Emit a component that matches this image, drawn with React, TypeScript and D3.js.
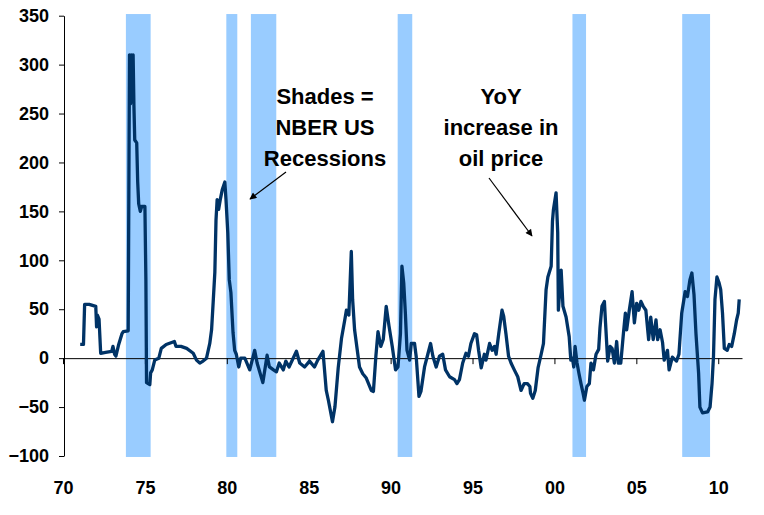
import React, { useRef, useEffect } from "react";
import { select, scaleLinear, axisLeft, axisBottom, line } from "d3";

// NBER recessions (start, end) as drawn
const recessionStart = [1973.84, 1979.97, 1981.47, 1990.43, 2001.1, 2007.8];
const recessionEnd = [1975.35, 1980.64, 1983.02, 1991.32, 2001.93, 2009.5];

// YoY % change in oil price
const years = [
  1971.05, 1971.25, 1971.32, 1971.6, 1972.0, 1972.05, 1972.1, 1972.2, 1972.3, 1972.6,
  1972.97, 1973.05, 1973.15, 1973.23, 1973.4, 1973.6, 1973.68, 1973.98, 1974.03, 1974.06,
  1974.12, 1974.17, 1974.23, 1974.28, 1974.33, 1974.38, 1974.5, 1974.56, 1974.62, 1974.72,
  1974.8, 1975.0, 1975.06, 1975.1, 1975.3,
  1975.35, 1975.45, 1975.6, 1975.85, 1976.0, 1976.3, 1976.8, 1976.9, 1977.2, 1977.55,
  1977.95, 1978.15, 1978.35, 1978.55, 1978.76, 1978.96, 1979.07, 1979.17, 1979.27, 1979.34,
  1979.41, 1979.5, 1979.6, 1979.72, 1979.88, 1979.95, 1980.06, 1980.15, 1980.25, 1980.38,
  1980.48, 1980.58, 1980.73, 1980.85, 1981.1, 1981.4, 1981.7, 1981.85, 1982.2, 1982.46,
  1982.6, 1982.85, 1983.03, 1983.2, 1983.45, 1983.6, 1983.8, 1984.25, 1984.45, 1984.75,
  1985.05, 1985.35, 1985.55, 1985.87, 1986.07, 1986.2, 1986.45, 1986.6, 1986.8, 1987.0,
  1987.2, 1987.3, 1987.45, 1987.6, 1987.68, 1987.8, 1988.1, 1988.3, 1988.5, 1988.82,
  1988.95, 1989.1, 1989.23, 1989.4, 1989.55, 1989.73, 1989.9, 1990.1, 1990.3, 1990.45,
  1990.6, 1990.69, 1990.8, 1990.9, 1991.0, 1991.16, 1991.26, 1991.46, 1991.56, 1991.73,
  1991.85, 1992.07, 1992.27, 1992.44, 1992.58, 1992.78, 1992.98, 1993.18, 1993.35, 1993.6,
  1993.9, 1994.05, 1994.2, 1994.4, 1994.6, 1994.75, 1994.9, 1995.12, 1995.25, 1995.37,
  1995.53, 1995.72, 1995.82, 1996.04, 1996.2, 1996.34, 1996.44, 1996.6, 1996.8, 1996.9,
  1997.04, 1997.2, 1997.35, 1997.55, 1997.76, 1997.96, 1998.15, 1998.35, 1998.5, 1998.54,
  1998.68, 1998.83, 1999.0, 1999.19, 1999.33, 1999.49, 1999.6, 1999.8, 1999.88, 1999.94,
  2000.1, 2000.2, 2000.24, 2000.41, 2000.52, 2000.71, 2000.9, 2001.0, 2001.1, 2001.18,
  2001.26, 2001.38, 2001.5, 2001.62, 2001.75, 2001.83, 2001.98, 2002.13, 2002.23, 2002.38,
  2002.54, 2002.7, 2002.78, 2002.9, 2003.05, 2003.12, 2003.25, 2003.4, 2003.52, 2003.66,
  2003.8, 2003.9, 2004.05, 2004.21, 2004.33, 2004.41, 2004.57, 2004.74, 2004.88, 2005.02,
  2005.15, 2005.28, 2005.42, 2005.58, 2005.75, 2005.88, 2006.03, 2006.2, 2006.3, 2006.45,
  2006.6, 2006.7, 2006.9, 2007.0, 2007.2, 2007.45, 2007.6, 2007.77, 2007.98, 2008.12,
  2008.27, 2008.39, 2008.52, 2008.64, 2008.8, 2008.88, 2009.04, 2009.35, 2009.5, 2009.62,
  2009.71, 2009.8, 2009.92, 2010.05, 2010.15, 2010.26, 2010.37, 2010.55, 2010.67, 2010.82,
  2010.98, 2011.12, 2011.22, 2011.28,
];
const yoy = [
  14, 14, 55, 55, 53, 32, 44, 40, 5, 6,
  7, 12, 4, 2, 14, 25, 27, 28, 206, 310,
  260, 310, 262, 310, 258, 223, 220, 180, 158, 150,
  155, 155, 80, -25, -27,
  -15, -12, -2, 0, 10, 14, 17, 12, 12, 10,
  5, -2, -5, -3, 0, 15, 29, 58, 88, 141,
  162, 152, 162, 172, 180, 162, 128, 80, 67, 26,
  8, 4, -9, 0, 0, -12, 8, -5, -25, 3,
  -9, -12, -14, -5, -12, -3, -9, 7, -5, -9,
  -3, -9, -2, 7, -33, -43, -65, -50, -10, 20,
  39, 49, 44, 109, 60, 29, -9, -16, -20, -33,
  -34, 2, 27, 12, 19, 53, 33, 12, -12, -9,
  25, 94, 77, 46, 8, -2, 15, 15, 2, -39,
  -34, -9, 4, 15, 2, -9, 2, 4, -12, -19,
  -22, -26, -22, -5, 5, 2, 15, 25, 24, 8,
  -10, 4, -2, 15, 8, 12, 4, 25, 49, 43,
  25, 2, -5, -12, -19, -33, -26, -26, -29, -36,
  -41, -33, -10, 4, 15, 70, 83, 94, 140, 152,
  169, 128, 49, 90, 53, 42, 22, -2, 0, -9,
  12, -5, -16, -26, -36, -43, -29, -26, -5, -12,
  4, 9, 31, 53, 58, 36, -3, 12, 10, -5,
  17, -5, -5, 25, 46, 29, 49, 68, 36, 56,
  49, 58, 53, 49, 19, 42, 19, 39, 19, 29,
  16, -2, 8, -12, 1, -3, 4, 46, 68, 63,
  80, 87, 65, 25, -15, -50, -56, -55, -50, -26,
  2, 60, 83, 77, 70, 46, 10, 8, 14, 12,
  25, 39, 46, 60,
];

const yTicks = [-100, -50, 0, 50, 100, 150, 200, 250, 300, 350];
const xTicks = [1970, 1975, 1980, 1985, 1990, 1995, 2000, 2005, 2010];

const FONT = "'Liberation Sans', Arial, sans-serif";

function App() {
  const svgRef = useRef<SVGSVGElement>(null);

  useEffect(() => {
    const svg = select(svgRef.current);
    svg.selectAll("*").remove();

    const x = scaleLinear().domain([1970, 2011.45]).range([63, 742]);
    const y = scaleLinear().domain([-100, 350]).range([456, 15.7]);

    // recession shading
    svg
      .append("g")
      .selectAll("rect")
      .data(recessionStart)
      .join("rect")
      .attr("x", (d) => x(d))
      .attr("width", (d, i) => x(recessionEnd[i]) - x(d))
      .attr("y", y(351.7))
      .attr("height", y(-101) - y(351.7))
      .attr("fill", "#99CCFF");

    // y axis
    const yAxis = axisLeft(y).tickValues(yTicks).tickSize(5).tickSizeOuter(0).tickPadding(10);
    const gy = svg.append("g").attr("transform", "translate(64,0)").call(yAxis);
    gy.select(".domain").attr("stroke", "#000");
    gy.selectAll("line").attr("stroke", "#000");
    gy.selectAll("text")
      .attr("font-family", FONT)
      .attr("font-size", 18)
      .attr("font-weight", "bold")
      .attr("fill", "#000");

    // zero line with year ticks
    const xAxis = axisBottom(x).tickValues(xTicks).tickSize(6).tickSizeOuter(0).tickFormat(() => "");
    const gx = svg.append("g").attr("transform", `translate(0,${y(0)})`).call(xAxis);
    gx.select(".domain").attr("stroke", "#000");
    gx.selectAll("line").attr("stroke", "#000");

    // year labels at the bottom
    const xLabels = axisBottom(x)
      .tickValues(xTicks)
      .tickSize(0)
      .tickPadding(0)
      .tickFormat((d) => String(Number(d) % 100).padStart(2, "0"));
    const gl = svg.append("g").attr("transform", "translate(0,481)").call(xLabels);
    gl.select(".domain").remove();
    gl.selectAll("text")
      .attr("font-family", FONT)
      .attr("font-size", 18)
      .attr("font-weight", "bold")
      .attr("fill", "#000");

    // oil price line
    const pts = years.map((yr, i) => [yr, yoy[i]] as [number, number]);
    const pLine = line<[number, number]>()
      .x((d) => x(d[0]))
      .y((d) => y(d[1]));
    svg
      .append("path")
      .datum(pts)
      .attr("d", pLine)
      .attr("fill", "none")
      .attr("stroke", "#003366")
      .attr("stroke-width", 3.3)
      .attr("stroke-linejoin", "round");

    // annotations
    const notes = [
      { cx: 325, lines: ["Shades =", "NBER US", "Recessions"] },
      { cx: 501, lines: ["YoY", "increase in", "oil price"] },
    ];
    notes.forEach((n) => {
      n.lines.forEach((t, i) => {
        svg
          .append("text")
          .attr("x", n.cx)
          .attr("y", 104 + i * 31)
          .attr("text-anchor", "middle")
          .attr("font-family", FONT)
          .attr("font-size", 22)
          .attr("font-weight", "bold")
          .attr("fill", "#000")
          .text(t);
      });
    });

    const defs = svg.append("defs");
    defs
      .append("marker")
      .attr("id", "arr")
      .attr("viewBox", "0 0 10 10")
      .attr("refX", 9)
      .attr("refY", 5)
      .attr("markerWidth", 9)
      .attr("markerHeight", 7)
      .attr("markerUnits", "userSpaceOnUse")
      .attr("orient", "auto")
      .append("path")
      .attr("d", "M0,0 L10,5 L0,10 z")
      .attr("fill", "#000");

    const arrows = [
      [286, 172, 250, 199],
      [489, 178, 532, 236],
    ];
    arrows.forEach(([x1, y1, x2, y2]) => {
      svg
        .append("line")
        .attr("x1", x1)
        .attr("y1", y1)
        .attr("x2", x2)
        .attr("y2", y2)
        .attr("stroke", "#000")
        .attr("stroke-width", 1.2)
        .attr("marker-end", "url(#arr)");
    });
  }, []);

  return (
    <div className="App">
      <svg
        ref={svgRef}
        width={764}
        height={515}
        style={{ position: "absolute", left: 0, top: 0, background: "#fff" }}
      />
    </div>
  );
}

export default App;
